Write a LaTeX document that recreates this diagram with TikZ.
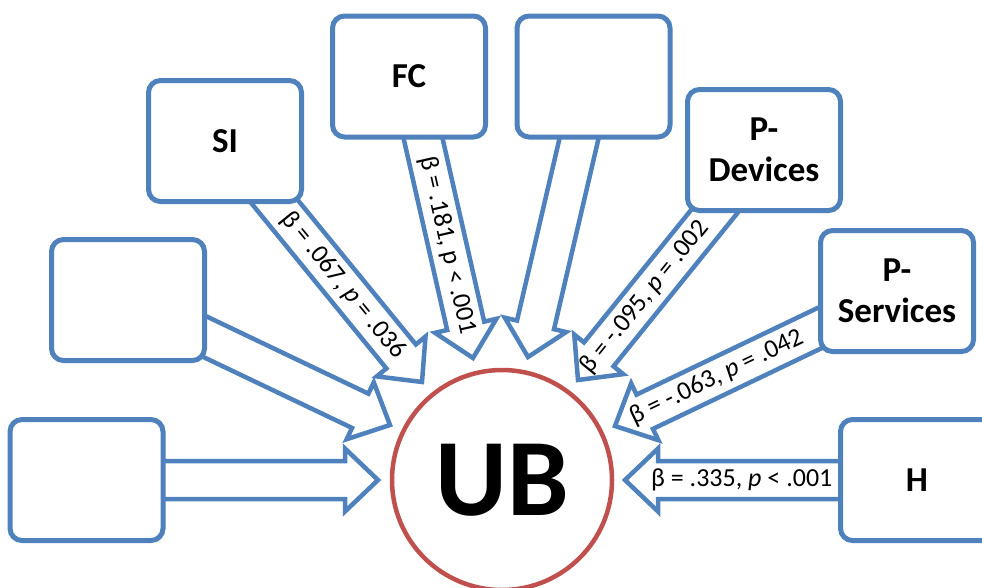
\documentclass[tikz,border=0pt]{standalone}
\usepackage{fontspec}
\setmainfont{Carlito}
\usetikzlibrary{calc,backgrounds}

\definecolor{boxblue}{HTML}{4F81BD}
\definecolor{ubred}{HTML}{C0504D}

% hollow block arrow from the centre of a factor box (#1) to a tip (#2);
% the tail is hidden under the box, which is drawn on top
\newcommand\headlen{33pt}
\newcommand\headhalf{31.5pt}
\newcommand\shafthalf{19pt}
\newcommand\blockarrow[2]{%
  \draw[blockarrow] (#2)
    -- ($(#2)!\headlen!(#1)!\headhalf!90:(#1)$)
    -- ($(#2)!\headlen!(#1)!\shafthalf!90:(#1)$)
    -- ($(#1)!\shafthalf!-90:(#2)$)
    -- ($(#1)!\shafthalf!90:(#2)$)
    -- ($(#2)!\headlen!(#1)!\shafthalf!-90:(#1)$)
    -- ($(#2)!\headlen!(#1)!\headhalf!-90:(#1)$)
    -- cycle;}

\tikzset{
  factor/.style={draw=boxblue, line width=5pt, fill=white, rounded corners=12pt,
    minimum width=153pt, minimum height=121pt, inner sep=0pt, align=center,
    font=\fontsize{35}{41}\selectfont\bfseries},
  outcome/.style={circle, draw=ubred, line width=4.5pt, fill=white,
    minimum size=220pt, inner sep=0pt, font=\fontsize{110}{112}\selectfont\bfseries},
  blockarrow/.style={draw=boxblue, line width=4.5pt, fill=white, line join=miter},
  coef/.style={font=\fontsize{26}{30}\selectfont, inner sep=0pt, sloped},
}

\begin{document}
\begin{tikzpicture}[x=1pt, y=-1pt]
\useasboundingbox (0,0) rectangle (982,587);
\clip (0,0) rectangle (982,587);

% factor boxes
\node[factor] (bl) at (86.5,480) {};
\node[factor] (lm) at (128,300) {};
\node[factor] (si) at (225,141) {SI};
\node[factor] (fc) at (409,76.5) {FC};
\node[factor] (tc) at (593.5,76.5) {};
\node[factor] (pd) at (764,150) {P-\\Devices};
\node[factor] (ps) at (897,291) {P-\\Services};
\node[factor] (h)  at (917,480) {H};

% outcome
\node[outcome] (ub) at (502,480) {UB};

% arrow tips around the outcome
\coordinate (tbl) at (378,480);
\coordinate (tlm) at (390,425);
\coordinate (tsi) at (422,382);
\coordinate (tfc) at (473,358);
\coordinate (ttc) at (528,357);
\coordinate (tpd) at (578,380);
\coordinate (tps) at (615,426);
\coordinate (th)  at (625,480);

\begin{pgfonlayer}{background}
  \blockarrow{bl.center}{tbl}
  \blockarrow{lm.center}{tlm}
  \blockarrow{si.center}{tsi}
  \blockarrow{fc.center}{tfc}
  \blockarrow{tc.center}{ttc}
  \blockarrow{pd.center}{tpd}
  \blockarrow{ps.center}{tps}
  \blockarrow{h.center}{th}

  \path (si.center) -- (tsi) node[coef, pos=.6] {β = .067, \textit{p} = .036};
  \path (fc.center) -- (tfc) node[coef, pos=.6] {β = .181, p < .001};
  \path (pd.center) -- (tpd) node[coef, pos=.64] {β = -.095, \textit{p} = .002};
  \path (ps.center) -- (tps) node[coef, pos=.64] {β = -.063, \textit{p} = .042};
  \path (h.center)  -- (th)  node[coef, pos=.6] {β = .335, \textit{p} < .001};
\end{pgfonlayer}
\end{tikzpicture}
\end{document}
